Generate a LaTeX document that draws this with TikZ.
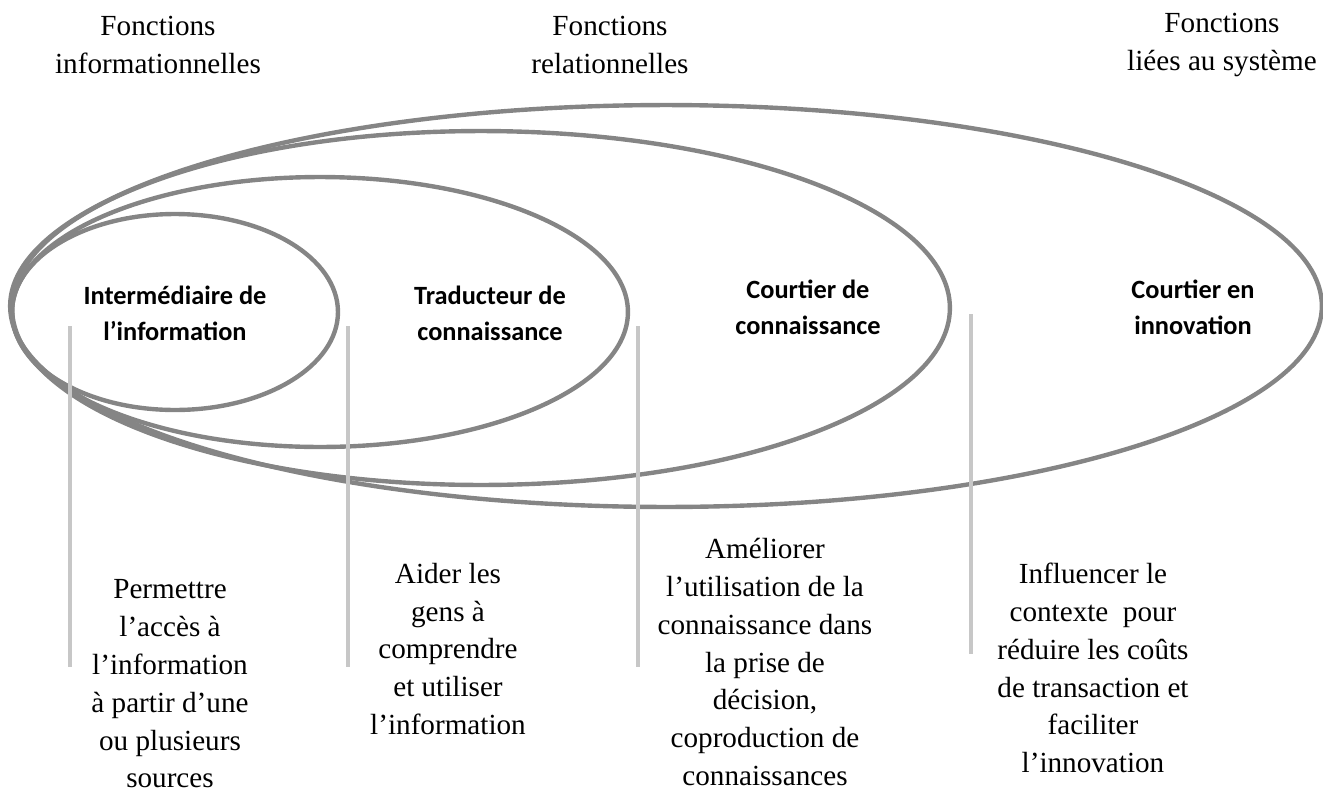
\documentclass[tikz,border=0pt]{standalone}
\usepackage{fontspec}
\setmainfont{Liberation Serif}
\newfontfamily\labelfont{Carlito}

\begin{document}
\begin{tikzpicture}[x=0.02cm,y=-0.02cm]
\tikzstyle{ring} = [draw=black!48, line width=2.5pt]
\tikzstyle{bar} = [draw=black!22, line width=2.5pt]
\tikzstyle{head} = [align=center, inner sep=0pt,
font=\fontsize{16.6}{21.5}\selectfont]
\tikzstyle{role} = [align=center, inner sep=0pt,
font=\labelfont\bfseries\fontsize{15}{20.4}\selectfont]
\tikzstyle{task} = [align=center, inner sep=0pt,
font=\fontsize{16.6}{21.5}\selectfont]
\useasboundingbox (0,0) rectangle (1323,795);

% nested ellipses, outer first
\draw[ring] (666,306) ellipse [x radius=13.12cm, y radius=4.02cm];
\draw[ring] (481,308) ellipse [x radius=9.38cm, y radius=3.54cm];
\draw[ring] (320,312) ellipse [x radius=6.16cm, y radius=2.7cm];
\draw[ring] (175,312) ellipse [x radius=3.26cm, y radius=1.96cm];

% row 1
\node [head] (fInfo) at (158,45) {Fonctions\\informationnelles};
\node [head] (fRel) at (610,45) {Fonctions\\relationnelles};
\node [head] (fSys) at (1222,45) {Fonctions\\liées au système};

% roles
\node [role] (info) at (175,313) {Intermédiaire de\\l’information};
\node [role] (trad) at (490,313) {Traducteur de\\connaissance};
\node [role] (courtC) at (808,307) {Courtier de\\connaissance};
\node [role] (courtI) at (1193,307) {Courtier en\\innovation};

% separators
\coordinate (s1a) at (70,326);  \coordinate (s1b) at (70,667);
\coordinate (s2a) at (348,326); \coordinate (s2b) at (348,667);
\coordinate (s3a) at (638,326); \coordinate (s3b) at (638,667);
\coordinate (s4a) at (971,314); \coordinate (s4b) at (971,654);
\path[bar] (s1a) -- (s1b);
\path[bar] (s2a) -- (s2b);
\path[bar] (s3a) -- (s3b);
\path[bar] (s4a) -- (s4b);

% tasks
\node [task] (dInfo) at (170,684) {Permettre\\l’accès à\\l’information\\à partir d’une\\ou plusieurs\\sources};
\node [task] (dTrad) at (448,649) {Aider les\\gens à\\comprendre\\et utiliser\\l’information};
\node [task] (dCourtC) at (765,662) {Améliorer\\l’utilisation de la\\connaissance dans\\la prise de\\décision,\\coproduction de\\connaissances};
\node [task] (dCourtI) at (1093,668) {Influencer le\\contexte~~pour\\réduire les coûts\\de transaction et\\faciliter\\l’innovation};
\end{tikzpicture}
\end{document}
